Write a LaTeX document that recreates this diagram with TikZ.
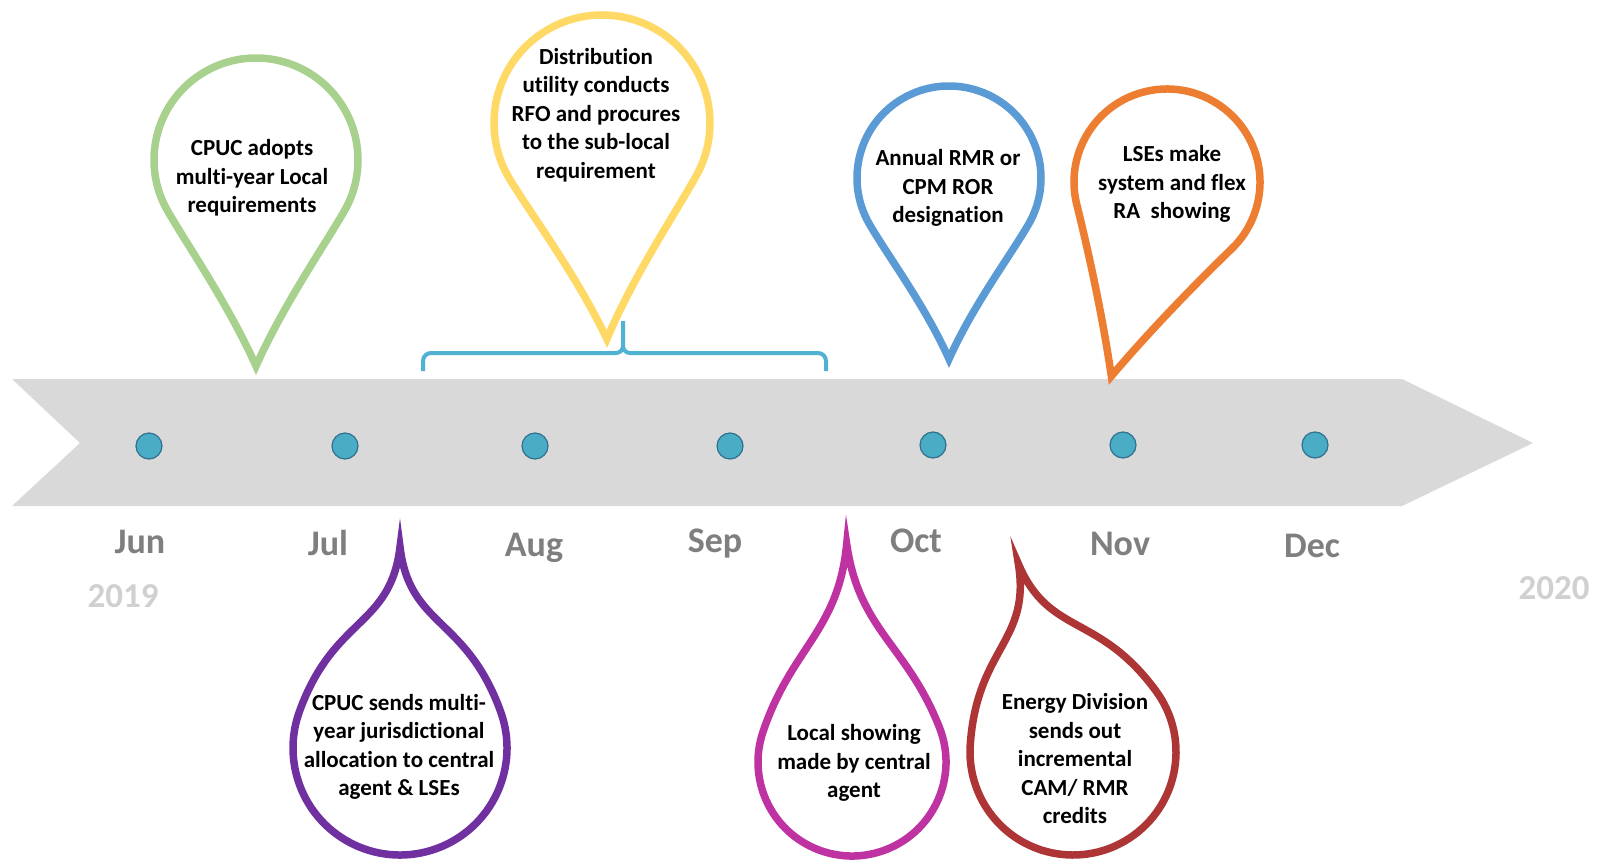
\documentclass[tikz,border=0pt]{standalone}
\usepackage{fontspec}
\setmainfont[Ligatures=NoCommon]{Carlito}
\definecolor{band}{HTML}{D9D9D9}
\definecolor{dotblue}{HTML}{4BACC6}
\definecolor{dotedge}{HTML}{31708F}
\definecolor{bracecol}{HTML}{4FB2D2}
\definecolor{pgreen}{HTML}{A9D18E}
\definecolor{pyellow}{HTML}{FFD966}
\definecolor{pblue}{HTML}{5B9BD5}
\definecolor{porange}{HTML}{ED7D31}
\definecolor{ppurple}{HTML}{7030A0}
\definecolor{pmagenta}{HTML}{BF32A2}
\definecolor{pred}{HTML}{AE3535}
\definecolor{monthcol}{HTML}{7F7F7F}
\definecolor{yearcol}{HTML}{D0D0D0}
% marker outline: radius, tip distance, joint angle, joint pull, tip pull, tip spread
\newcommand{\pinpath}[6]{%
  (0,-#2) .. controls +({-#6*#5*#2},{#5*#2}) and +({#4*#1*cos(#3)},{-#4*#1*sin(#3)})
  .. ({-#1*sin(#3)},{-#1*cos(#3)})
  arc[start angle={270-#3}, end angle={#3-90}, radius=#1]
  .. controls +({-#4*#1*cos(#3)},{-#4*#1*sin(#3)}) and +({#6*#5*#2},{#5*#2}) .. (0,-#2) -- cycle}
\begin{document}
\begin{tikzpicture}[x=1pt,y=1pt,
    pinline/.style={line width=7.5pt, line join=miter, miter limit=25, fill=white},
    dot/.style={circle, fill=dotblue, draw=dotedge, line width=1.2pt, minimum size=26pt, inner sep=0pt},
    month/.style={anchor=base, text=monthcol, font=\fontsize{36}{40}\selectfont\bfseries},
    year/.style={anchor=base, text=yearcol, font=\fontsize{35}{40}\selectfont\bfseries},
    note/.style={align=center, inner sep=0pt, font=\fontsize{23}{28.5}\selectfont\bfseries}]
  \useasboundingbox (0,0) rectangle (1597,-862);
  \fill[white] (0,0) rectangle (1597,-862);

  % time band
  \fill[band] (12,-379) -- (1402,-379) -- (1533,-443) -- (1402,-506) -- (12,-506) -- (80,-443) -- cycle;

  \node[dot] (d-jun) at (149,-446) {};
  \node[dot] (d-jul) at (345,-446) {};
  \node[dot] (d-aug) at (535,-446) {};
  \node[dot] (d-sep) at (730,-446) {};
  \node[dot] (d-oct) at (933,-445) {};
  \node[dot] (d-nov) at (1123,-445) {};
  \node[dot] (d-dec) at (1315,-445) {};

  \node[month] (jun) at (140,-553) {Jun};
  \node[month] (jul) at (328,-555) {Jul};
  \node[month] (aug) at (534,-556) {Aug};
  \node[month] (sep) at (715,-552) {Sep};
  \node[month] (oct) at (916,-552) {Oct};
  \node[month] (nov) at (1120,-555) {Nov};
  \node[month] (dec) at (1312,-557) {Dec};

  \node[year] (y2019) at (123,-607) {2019};
  \node[year] (y2020) at (1554,-599) {2020};

  % markers above the band
  \draw[pinline, draw=pgreen, shift={(256,-160)}] \pinpath{102}{206}{60}{0.4}{0.3}{0.45};
  \draw[pinline, draw=pyellow, shift={(602,-123)}, rotate=1.3] \pinpath{108}{216}{60}{0.4}{0.3}{0.45};
  \draw[pinline, draw=pblue, shift={(949,-178)}] \pinpath{92}{181}{60}{0.4}{0.3}{0.45};
  \draw[pinline, draw=porange, shift={(1167,-182)}, rotate=-16] \pinpath{93}{202}{60}{0.4}{0.3}{0.45};

  % drops below the band
  \draw[pinline, draw=ppurple, shift={(400,-748)}, rotate=180] \pinpath{107}{201}{70}{0.95}{0.4}{0.12};
  \draw[pinline, draw=pmagenta, shift={(852,-762)}, rotate=181.4] \pinpath{94}{218}{70}{0.95}{0.4}{0.12};
  \draw[pinline, draw=pred, shift={(1073,-752)}, rotate=196.2] \pinpath{103}{196}{70}{0.95}{0.4}{0.12};

  % brace over Aug--Sep
  \draw[bracecol, line width=4pt] (423,-371) -- (423,-361) to[out=90,in=180] (431,-353) -- (616,-353)
    to[out=0,in=-90] (623,-346) -- (623,-321);
  \draw[bracecol, line width=4pt] (623,-346) to[out=-90,in=180] (630,-353) -- (818,-353)
    to[out=0,in=90] (826,-361) -- (826,-371);

  \node[note] (adopt) at (252,-178) {CPUC adopts\\multi-year Local\\requirements};
  \node[note] (rfo) at (596,-115) {Distribution\\utility conducts\\RFO and procures\\to the sub-local\\requirement};
  \node[note] (rmr) at (948,-188) {Annual RMR or\\CPM ROR\\designation};
  \node[note] (flex) at (1172,-184) {LSEs make\\system and flex\\RA\ \ showing};
  \node[note] (alloc) at (399,-747) {CPUC sends multi-\\year jurisdictional\\allocation to central\\agent \& LSEs};
  \node[note] (local) at (854,-763) {Local showing\\made by central\\agent};
  \node[note] (credits) at (1075,-759) {Energy Division\\sends out\\incremental\\CAM/ RMR\\credits};
\end{tikzpicture}
\end{document}
